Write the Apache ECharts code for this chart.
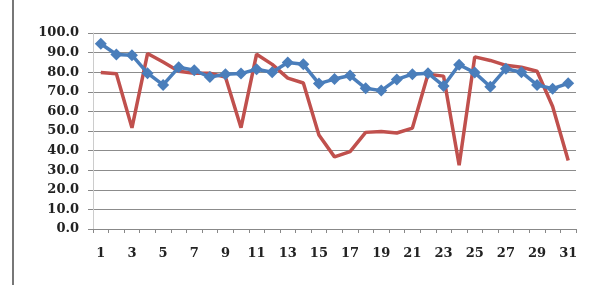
<!DOCTYPE html>
<html>
<head>
<meta charset="utf-8">
<script src="https://cdn.jsdelivr.net/npm/echarts@6/dist/echarts.min.js"></script>
<style>
  html, body { margin: 0; padding: 0; background: #fff; }
  #chart { width: 595px; height: 287px; }
</style>
</head>
<body>
<div id="chart"></div>
<script>
// days 1..31
const days = Array.from({ length: 31 }, (_, i) => String(i + 1));

// blue series (diamond markers)
const blueValues = [
  94.5, 89.0, 88.7, 79.5, 73.5, 82.5, 81.0, 77.5, 79.0, 79.3,
  81.5, 80.0, 85.0, 84.0, 74.2, 76.5, 78.3, 71.8, 70.6, 76.3,
  79.0, 79.5, 73.0, 83.8, 79.8, 72.6, 81.8, 80.0, 73.5, 71.6,
  74.3
];

// red series (plain line)
const redValues = [
  79.8, 79.2, 51.6, 89.5, 85.2, 80.5, 79.5, 79.5, 77.5, 51.7,
  89.2, 84.0, 77.0, 74.5, 48.0, 36.8, 39.5, 49.3, 49.8, 49.0,
  51.5, 79.0, 78.0, 32.5, 87.8, 86.0, 83.5, 82.5, 80.5, 62.5,
  35.0
];

const yTicks = { min: 0, max: 100, interval: 10 };

const chart = echarts.init(document.getElementById('chart'));

const labelFont = {
  fontFamily: 'DejaVu Serif',
  fontWeight: 'bold',
  fontSize: 13,
  color: '#222',
};

chart.setOption({
  animation: false,
  backgroundColor: '#fff',
  grid: { left: 93, right: 19, top: 33, bottom: 58 },
  graphic: [
    {
      type: 'line',
      shape: { x1: 13, y1: 0, x2: 13, y2: 285 },
      style: { stroke: '#777', lineWidth: 2 },
    },
  ],
  xAxis: {
    type: 'category',
    data: days,
    boundaryGap: true,
    axisLine: { lineStyle: { color: '#888', width: 1 } },
    axisTick: { show: true, interval: 0, length: 4, lineStyle: { color: '#888' } },
    axisLabel: { ...labelFont, interval: 1, margin: 18 },
    splitLine: { show: false },
  },
  yAxis: {
    type: 'value',
    min: yTicks.min,
    max: yTicks.max,
    interval: yTicks.interval,
    axisLine: { show: true, lineStyle: { color: '#ccc', width: 1 } },
    axisTick: { show: true, length: 5, lineStyle: { color: '#888' } },
    axisLabel: { ...labelFont, margin: 14, formatter: (v) => v.toFixed(1) },
    splitLine: { lineStyle: { color: '#8c8c8c', width: 1 } },
  },
  series: [
    {
      name: 'red',
      type: 'line',
      data: redValues,
      symbol: 'none',
      z: 2,
      lineStyle: { color: '#C0504D', width: 3.5 },
    },
    {
      name: 'blue',
      type: 'line',
      data: blueValues,
      symbol: 'diamond',
      symbolSize: 12,
      showAllSymbol: true,
      z: 3,
      itemStyle: { color: '#4A7EBB' },
      lineStyle: { color: '#4A7EBB', width: 3.5 },
    },
  ],
});
</script>
</body>
</html>
